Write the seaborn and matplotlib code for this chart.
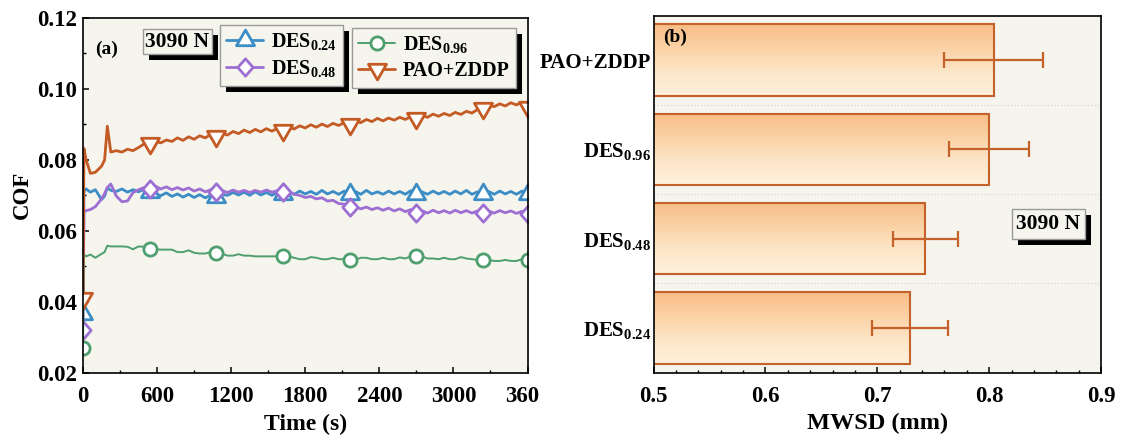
import numpy as np
import pandas as pd
import matplotlib
matplotlib.use("Agg")
import matplotlib.pyplot as plt
import seaborn as sns
from matplotlib.path import Path
from matplotlib.patches import Rectangle
from matplotlib.transforms import IdentityTransform, Bbox
from matplotlib.colors import LinearSegmentedColormap
from matplotlib.ticker import MultipleLocator

# ---------------- (a) friction coefficient vs time, 3090 N ----------------
time_s = np.concatenate([[0, 8, 25, 60, 100, 150, 175, 197, 225],
                         np.arange(270, 3601, 45)])

cof_des024 = [
    0.0365, 0.0712, 0.0718, 0.0709, 0.0716, 0.0688, 0.0698, 0.0722, 0.0714,
    0.0711, 0.0718, 0.0709, 0.0716, 0.0710, 0.0717, 0.0710, 0.0704, 0.0699, 0.0707,
    0.0697, 0.0704, 0.0695, 0.0703, 0.0694, 0.0702, 0.0693, 0.0701, 0.0694, 0.0703,
    0.0700, 0.0708, 0.0701, 0.0709, 0.0700, 0.0710, 0.0701, 0.0708, 0.0700, 0.0709,
    0.0703, 0.0710, 0.0703, 0.0712, 0.0704, 0.0711, 0.0703, 0.0714, 0.0704, 0.0711,
    0.0703, 0.0712, 0.0704, 0.0711, 0.0703, 0.0714, 0.0704, 0.0710, 0.0703, 0.0712,
    0.0704, 0.0711, 0.0703, 0.0713, 0.0704, 0.0710, 0.0703, 0.0712, 0.0704, 0.0711,
    0.0703, 0.0712, 0.0704, 0.0714, 0.0703, 0.0710, 0.0704, 0.0711, 0.0703, 0.0712,
    0.0704, 0.0711, 0.0703, 0.0712, 0.0704,
]
cof_des048 = [
    0.0320, 0.0653, 0.0657, 0.0660, 0.0668, 0.0690, 0.0705, 0.0722, 0.0732,
    0.0698, 0.0682, 0.0684, 0.0708, 0.0716, 0.0722, 0.0718, 0.0726, 0.0718, 0.0724,
    0.0716, 0.0722, 0.0715, 0.0721, 0.0712, 0.0718, 0.0710, 0.0716, 0.0710, 0.0714,
    0.0708, 0.0715, 0.0709, 0.0714, 0.0708, 0.0714, 0.0709, 0.0715, 0.0709, 0.0713,
    0.0710, 0.0712, 0.0703, 0.0700, 0.0694, 0.0697, 0.0690, 0.0693, 0.0684, 0.0686,
    0.0677, 0.0675, 0.0668, 0.0668, 0.0662, 0.0667, 0.0660, 0.0665, 0.0658, 0.0664,
    0.0656, 0.0662, 0.0654, 0.0660, 0.0650, 0.0657, 0.0650, 0.0658, 0.0651, 0.0657,
    0.0650, 0.0658, 0.0651, 0.0657, 0.0650, 0.0656, 0.0650, 0.0656, 0.0650, 0.0657,
    0.0651, 0.0656, 0.0649, 0.0655, 0.0648,
]
cof_des096 = [
    0.0271, 0.0533, 0.0528, 0.0533, 0.0524, 0.0535, 0.0540, 0.0558, 0.0556,
    0.0556, 0.0556, 0.0555, 0.0548, 0.0556, 0.0555, 0.0550, 0.0548, 0.0547, 0.0547,
    0.0547, 0.0540, 0.0540, 0.0545, 0.0538, 0.0536, 0.0536, 0.0540, 0.0537, 0.0536,
    0.0530, 0.0530, 0.0534, 0.0530, 0.0530, 0.0528, 0.0528, 0.0528, 0.0528, 0.0528,
    0.0528, 0.0528, 0.0524, 0.0520, 0.0520, 0.0526, 0.0524, 0.0520, 0.0520, 0.0524,
    0.0520, 0.0520, 0.0518, 0.0518, 0.0524, 0.0524, 0.0520, 0.0520, 0.0524, 0.0520,
    0.0520, 0.0525, 0.0522, 0.0528, 0.0528, 0.0528, 0.0522, 0.0522, 0.0520, 0.0524,
    0.0520, 0.0520, 0.0526, 0.0522, 0.0520, 0.0518, 0.0518, 0.0518, 0.0515, 0.0515,
    0.0518, 0.0515, 0.0515, 0.0520, 0.0518,
]
cof_pao_zddp = [
    0.0411, 0.0832, 0.0800, 0.0762, 0.0765, 0.0782, 0.0800, 0.0895, 0.0822,
    0.0826, 0.0822, 0.0830, 0.0826, 0.0835, 0.0845, 0.0848, 0.0852, 0.0848, 0.0856,
    0.0852, 0.0862, 0.0855, 0.0865, 0.0858, 0.0868, 0.0862, 0.0872, 0.0866, 0.0875,
    0.0870, 0.0880, 0.0874, 0.0884, 0.0877, 0.0886, 0.0879, 0.0888, 0.0881, 0.0889,
    0.0885, 0.0893, 0.0887, 0.0896, 0.0890, 0.0899, 0.0892, 0.0901, 0.0894, 0.0903,
    0.0897, 0.0905, 0.0900, 0.0910, 0.0905, 0.0914, 0.0908, 0.0917, 0.0910, 0.0918,
    0.0912, 0.0920, 0.0914, 0.0922, 0.0917, 0.0926, 0.0920, 0.0929, 0.0923, 0.0931,
    0.0925, 0.0934, 0.0928, 0.0937, 0.0932, 0.0942, 0.0946, 0.0955, 0.0950, 0.0958,
    0.0952, 0.0961, 0.0955, 0.0963, 0.0950,
]
series_names = ["DES$_{0.24}$", "DES$_{0.48}$", "DES$_{0.96}$", "PAO+ZDDP"]

time_ticks = [0, 600, 1200, 1800, 2400, 3000, 3600]
cof_ticks = [0.02, 0.04, 0.06, 0.08, 0.10, 0.12]

# ---------------- (b) mean wear scar diameter ----------------
lubricants = ["DES$_{0.24}$", "DES$_{0.48}$", "DES$_{0.96}$", "PAO+ZDDP"]
mwsd_mm = [0.729, 0.743, 0.800, 0.804]
mwsd_err = [0.034, 0.029, 0.036, 0.044]
mwsd_ticks = [0.5, 0.6, 0.7, 0.8, 0.9]

# ---------------- style ----------------
BG = "#F5F4ED"
BLUE = "#3C8DC6"
PURPLE = "#9E6FD3"
GREEN = "#4F9E6E"
ORANGE = "#C45A24"
BAR_EDGE = "#C4622A"
FRAME = "#9A9A9A"

sns.set_theme(style="ticks")
plt.rcParams.update({
    "font.family": ["Liberation Serif", "DejaVu Serif"],
    "font.weight": "bold",
    "axes.labelweight": "bold",
    "text.color": "black",
    "axes.labelcolor": "black",
    "xtick.labelcolor": "black",
    "ytick.labelcolor": "black",
    "mathtext.fontset": "custom",
    "mathtext.rm": "Liberation Serif:bold",
    "mathtext.it": "Liberation Serif:bold",
    "mathtext.bf": "Liberation Serif:bold",
    "axes.facecolor": BG,
    "axes.edgecolor": "black",
    "axes.linewidth": 1.2,
    "xtick.direction": "in",
    "ytick.direction": "in",
    "xtick.color": "black",
    "ytick.color": "black",
    "xtick.major.size": 4.5,
    "ytick.major.size": 4.5,
    "xtick.minor.size": 2.5,
    "ytick.minor.size": 2.5,
    "xtick.major.width": 1.1,
    "ytick.major.width": 1.1,
    "xtick.minor.width": 1.0,
    "ytick.minor.width": 1.0,
})

W, H = 1121, 438
fig = plt.figure(figsize=(W / 100, H / 100), dpi=100)
fig.patch.set_facecolor("white")


def fig_rect(x0, y0, x1, y1):
    """Axes rectangle from pixel edges (top-left origin)."""
    return [x0 / W, 1 - y1 / H, (x1 - x0) / W, (y1 - y0) / H]


ax1 = fig.add_axes(fig_rect(83, 18, 527.5, 372.7))
ax2 = fig.add_axes(fig_rect(653.6, 15.5, 1101, 372.7))

# marker shapes centred on their centroid
tri_up = Path([(0, 1), (-0.866, -0.5), (0.866, -0.5), (0, 1)],
              [Path.MOVETO, Path.LINETO, Path.LINETO, Path.CLOSEPOLY])
tri_down = Path([(0, -1), (-0.866, 0.5), (0.866, 0.5), (0, -1)],
                [Path.MOVETO, Path.LINETO, Path.LINETO, Path.CLOSEPOLY])
diamond = Path([(0, 1), (0.88, 0), (0, -1), (-0.88, 0), (0, 1)],
               [Path.MOVETO, Path.LINETO, Path.LINETO, Path.LINETO, Path.CLOSEPOLY])

mark_idx = [i for i, t in enumerate(time_s) if t % 540 == 0 or t == 3600]

styles = [
    (cof_des024, BLUE, tri_up, 15.0, 2.0),
    (cof_des048, PURPLE, diamond, 12.5, 2.0),
    (cof_des096, GREEN, "o", 9.5, 1.4),
    (cof_pao_zddp, ORANGE, tri_down, 15.0, 2.0),
]
for name, (vals, color, marker, ms, lw) in zip(series_names, styles):
    sns.lineplot(x=time_s, y=vals, ax=ax1, color=color, linewidth=lw,
                 marker=marker, markersize=ms, markerfacecolor="white",
                 markeredgecolor=color, markeredgewidth=2.0,
                 markevery=mark_idx, label=name, legend=False,
                 estimator=None, sort=False)

ax1.set_xlim(0, 3600)
ax1.set_ylim(0.02, 0.12)
ax1.set_xticks(time_ticks)
ax1.set_yticks(cof_ticks)
ax1.set_yticklabels([f"{v:.2f}" for v in cof_ticks])
ax1.xaxis.set_minor_locator(MultipleLocator(300))
ax1.yaxis.set_minor_locator(MultipleLocator(0.01))
ax1.tick_params(axis="both", which="major", labelsize=16.5)
ax1.tick_params(axis="x", which="major", pad=9.5)
ax1.tick_params(axis="y", which="major", pad=4)
ax1.set_xlabel("Time (s)", fontsize=17, labelpad=5)
ax1.set_ylabel("COF", fontsize=16.5, labelpad=3)

lines = ax1.get_lines()
leg_kw = dict(loc="upper left", bbox_transform=fig.transFigure, borderaxespad=0,
              frameon=True, fancybox=False, framealpha=1, facecolor=BG,
              edgecolor=FRAME, borderpad=0.32, handlelength=1.8,
              handletextpad=0.42, labelspacing=0.3, fontsize=14.5)
leg1 = ax1.legend(handles=lines[:2], labels=series_names[:2],
                  bbox_to_anchor=(220 / W, 1 - 25 / H), **leg_kw)
ax1.add_artist(leg1)
leg2 = ax1.legend(handles=lines[2:], labels=series_names[2:],
                  bbox_to_anchor=(352 / W, 1 - 28 / H), **leg_kw)
for lg in (leg1, leg2):
    lg.get_frame().set_linewidth(1.0)

box_kw = dict(boxstyle="square,pad=0.12", fc=BG, ec=FRAME, lw=1.0)
load_a = ax1.text(177.5 / W, 1 - 41.7 / H, "3090 N", transform=fig.transFigure,
                  ha="center", va="center", fontsize=15.5, bbox=box_kw, zorder=6)
ax1.text(107 / W, 1 - 49 / H, "(a)", transform=fig.transFigure,
         ha="center", va="center", fontsize=14)

# ---------------- bar chart ----------------
bar_df = pd.DataFrame({"lubricant": lubricants, "mwsd": mwsd_mm, "err": mwsd_err})
order = lubricants[::-1]
sns.barplot(data=bar_df, x="mwsd", y="lubricant", order=order, orient="h",
            errorbar=None, width=0.8, ax=ax2)

grad_cmap = LinearSegmentedColormap.from_list(
    "peach", ["#F8BD86", "#FBD2A6", "#FDE6C8", "#FEF1DC"])
grad = np.linspace(0, 1, 256).reshape(-1, 1)
err_map = dict(zip(bar_df["lubricant"], bar_df["err"]))
for patch, name in zip(ax2.patches, order):
    patch.set_facecolor("none")
    patch.set_edgecolor(BAR_EDGE)
    patch.set_linewidth(1.5)
    y0 = patch.get_y()
    h = patch.get_height()
    im = ax2.imshow(grad, extent=[0.5, patch.get_width(), y0 + h, y0],
                    origin="upper", cmap=grad_cmap, aspect="auto",
                    interpolation="bicubic", zorder=patch.get_zorder() - 0.1)
    im.set_clip_path(patch)
    ax2.errorbar(patch.get_width(), y0 + h / 2, xerr=err_map[name],
                 fmt="none", ecolor=BAR_EDGE, elinewidth=1.6, capsize=5.5,
                 capthick=1.6, zorder=patch.get_zorder() + 1)

for yb in (0.5, 1.5, 2.5):
    ax2.axhline(yb, color="#D2D2D2", lw=0.8, ls=(0, (1, 2)), zorder=0.5)

ax2.set_xlim(0.5, 0.9)
ax2.set_ylim(3.5, -0.5)
ax2.set_xticks(mwsd_ticks)
ax2.set_xticklabels([f"{v:g}" for v in mwsd_ticks])
ax2.xaxis.set_minor_locator(MultipleLocator(0.02))
ax2.tick_params(axis="x", which="major", labelsize=16.5, pad=9.5)
ax2.tick_params(axis="y", which="major", labelsize=15, pad=2, length=6)
ax2.set_xlabel("MWSD (mm)", fontsize=17.5, labelpad=4)
ax2.set_ylabel("")
ax2.text(675 / W, 1 - 37 / H, "(b)", transform=fig.transFigure,
         ha="center", va="center", fontsize=14)
load_b = ax2.text(1048.5 / W, 1 - 224 / H, "3090 N", transform=fig.transFigure,
                  ha="center", va="center", fontsize=15.5,
                  bbox=dict(boxstyle="square,pad=0.22", fc=BG, ec=FRAME, lw=1.0),
                  zorder=6)

for ax in (ax1, ax2):
    for sp in ax.spines.values():
        sp.set_visible(True)
        sp.set_linewidth(1.2)
        sp.set_color("black")

# ---------------- drop shadows behind the boxes ----------------
fig.canvas.draw()
renderer = fig.canvas.get_renderer()


def add_shadow(ax, bb, z, dx=6, dy=6):
    r = Rectangle((bb.x0 + dx, bb.y0 - dy), bb.width, bb.height,
                  transform=IdentityTransform(), fc="black", ec="none",
                  zorder=z, clip_on=False)
    ax.add_artist(r)
    r.set_clip_on(False)


add_shadow(ax1, load_a.get_bbox_patch().get_window_extent(renderer), 5.5)
add_shadow(ax1, leg1.get_frame().get_window_extent(renderer), 4.5)
add_shadow(ax1, leg2.get_frame().get_window_extent(renderer), 4.5)
add_shadow(ax2, load_b.get_bbox_patch().get_window_extent(renderer), 5.5)

# the last time label is cut by panel (b)'s edge
for lab in ax1.get_xticklabels():
    if lab.get_text() == "3600":
        lab.set_clip_box(Bbox.from_extents(0, 0, 539, H))
        lab.set_clip_on(True)

fig.savefig("out.png", dpi=100, facecolor="white")
